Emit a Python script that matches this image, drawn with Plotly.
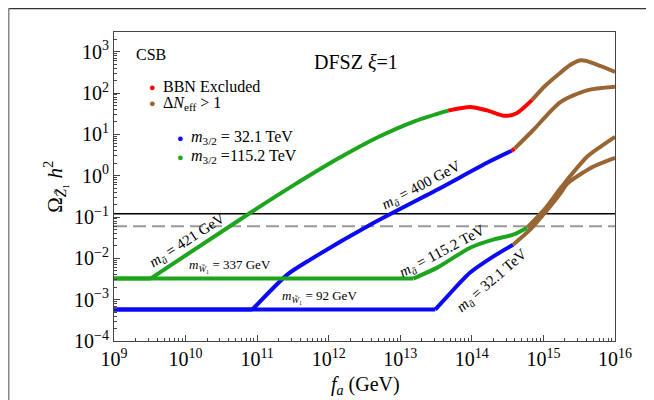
import plotly.graph_objects as go

# ---------------- data (f_a in GeV, Omega h^2) ----------------
# m_{3/2} = 32.1 TeV, m_a~ = 400 GeV (wino m = 92 GeV)
blue_hi_flat_fa = [1e9, 8.57e10]
blue_hi_flat_om = [5.77e-4, 5.77e-4]
blue_hi_rise_fa = [8.57e10, 2.64e11, 5.53e11, 3.8e12, 3.27e13, 1.63e14, 3.6e14]
blue_hi_rise_om = [5.77e-4, 4.04e-3, 9.3e-3, 0.065, 0.456, 2.05, 4.0]
blue_hi_red_fa = [3.6e14, 3.95e14]
blue_hi_red_om = [4.0, 4.5]
blue_hi_brown_fa = [3.95e14, 7.26e14, 1.71e15, 4.07e15, 1e16]
blue_hi_brown_om = [4.5, 12.9, 59.6, 116, 141]

# m_{3/2} = 32.1 TeV, m_a~ = 32.1 TeV
blue_lo_flat_fa = [1e9, 3.08e13]
blue_lo_flat_om = [5.77e-4, 5.77e-4]
blue_lo_rise_fa = [3.08e13, 4.52e13, 9.47e13, 1.98e14, 3.77e14]
blue_lo_rise_om = [5.77e-4, 1.19e-3, 4.52e-3, 0.011, 0.0214]
blue_lo_brown_fa = [3.77e14, 6.52e14, 1.05e15, 1.71e15, 2.14e15, 4.93e15, 1e16]
blue_lo_brown_om = [0.0214, 0.0493, 0.127, 0.363, 0.637, 1.64, 2.7]

# m_{3/2} = 115.2 TeV, m_a~ = 421 GeV (wino m = 337 GeV)
green_hi_flat_fa = [1e9, 3.24e9]
green_hi_flat_om = [3.24e-3, 3.24e-3]
green_hi_rise_fa = [3.24e9, 8.04e10, 3.16e11, 1.26e12, 5.01e12, 1.58e13, 4.67e13]
green_hi_rise_om = [3.24e-3, 0.127, 0.574, 2.42, 8.73, 20.7, 37.5]
green_hi_red_fa = [4.67e13, 9.47e13, 1.63e14, 2.92e14, 4.29e14, 6.95e14]
green_hi_red_om = [37.5, 46, 38, 28, 33, 68]
green_hi_brown_fa = [6.95e14, 1.05e15, 1.71e15, 2.36e15, 3.3e15, 4.07e15, 6.18e15, 1e16]
green_hi_brown_om = [68, 148, 306, 474, 620, 590, 451, 324]

# m_{3/2} = 115.2 TeV, m_a~ = 115.2 TeV
green_lo_flat_fa = [1e9, 1.52e13]
green_lo_flat_om = [3.24e-3, 3.24e-3]
green_lo_rise_fa = [1.52e13, 3.28e13, 9.47e13, 1.98e14, 3.77e14, 5.92e14]
green_lo_rise_om = [3.24e-3, 5.96e-3, 0.0181, 0.0283, 0.0373, 0.0552]
green_lo_brown_fa = [5.92e14, 1.05e15, 1.71e15, 2.14e15, 4.07e15, 6.18e15, 1e16]
green_lo_brown_om = [0.0552, 0.158, 0.482, 0.79, 2.86, 4.93, 8.7]

hline_fa = [1e9, 1e16]
omega_dm = 0.12
omega_half = 0.06

x_tickvals = [1e9, 1e10, 1e11, 1e12, 1e13, 1e14, 1e15, 1e16]
x_ticktext = ["10<sup>9</sup>", "10<sup>10</sup>", "10<sup>11</sup>", "10<sup>12</sup>",
              "10<sup>13</sup>", "10<sup>14</sup>", "10<sup>15</sup>", "10<sup>16</sup>"]
y_tickvals = [1e-4, 1e-3, 1e-2, 1e-1, 1e0, 1e1, 1e2, 1e3]
y_ticktext = ["10<sup>\u22124</sup>", "10<sup>\u22123</sup>", "10<sup>\u22122</sup>", "10<sup>\u22121</sup>",
              "10<sup>0</sup>", "10<sup>1</sup>", "10<sup>2</sup>", "10<sup>3</sup>"]

BLUE = "#0a0af5"
GREEN = "#1ea51e"
RED = "#ff0000"
BROWN = "#996633"
FONT = "Liberation Serif"
LW = 4

fig = go.Figure()

# reference lines
fig.add_trace(go.Scatter(x=hline_fa, y=[omega_dm] * 2, mode="lines",
                         line=dict(color="black", width=1.6), showlegend=False))
fig.add_trace(go.Scatter(x=hline_fa, y=[omega_half] * 2, mode="lines",
                         line=dict(color="#999999", width=2, dash="13px,6px"), showlegend=False))


def seg(x, y, color, shape="spline"):
    fig.add_trace(go.Scatter(x=x, y=y, mode="lines",
                             line=dict(color=color, width=LW, shape=shape, smoothing=0.7),
                             showlegend=False))


for fa, om, c, sh in [
    (blue_hi_flat_fa, blue_hi_flat_om, BLUE, "linear"),
    (blue_hi_rise_fa, blue_hi_rise_om, BLUE, "spline"),
    (blue_hi_red_fa, blue_hi_red_om, RED, "linear"),
    (blue_hi_brown_fa, blue_hi_brown_om, BROWN, "spline"),
    (blue_lo_flat_fa, blue_lo_flat_om, BLUE, "linear"),
    (blue_lo_rise_fa, blue_lo_rise_om, BLUE, "spline"),
    (blue_lo_brown_fa, blue_lo_brown_om, BROWN, "spline"),
    (green_hi_flat_fa, green_hi_flat_om, GREEN, "linear"),
    (green_hi_rise_fa, green_hi_rise_om, GREEN, "spline"),
    (green_hi_red_fa, green_hi_red_om, RED, "spline"),
    (green_hi_brown_fa, green_hi_brown_om, BROWN, "spline"),
    (green_lo_flat_fa, green_lo_flat_om, GREEN, "linear"),
    (green_lo_rise_fa, green_lo_rise_om, GREEN, "spline"),
    (green_lo_brown_fa, green_lo_brown_om, BROWN, "spline"),
]:
    seg(fa, om, c, sh)

# page geometry: the figure div sits at an 8px body margin inside the 654x400 window
OFF = 8
W, H = 654 - OFF, 400 - OFF
PL, PR, PT, PB = 114, 615, 32, 341.5          # desired plot box in window pixels
L, R, T, B = PL - OFF, W - (PR - OFF), PT - OFF, H - (PB - OFF)
PW, PH = W - L - R, H - T - B


def px(xp):
    return (xp - OFF - L) / PW


def py(yp):
    return (H - B - (yp - OFF)) / PH


ann = []


def text(x, y, s, size=16, angle=0, xanchor="center", color="black"):
    ann.append(dict(x=px(x), y=py(y), xref="paper", yref="paper", text=s, showarrow=False,
                    textangle=angle, xanchor=xanchor, yanchor="middle",
                    font=dict(family=FONT, size=size, color=color)))


text(151, 55, "CSB", 16)
text(356, 62, "DFSZ <i>\u03be</i>=1", 20)
text(152, 87, "\u25cf", 11, color=RED)
text(161, 87, "BBN Excluded", 16, xanchor="left")
text(152, 103, "\u25cf", 11, color=BROWN)
text(161, 104, "\u0394<i>N</i><sub>eff</sub> > 1", 16, xanchor="left")
text(180, 138, "\u25cf", 11, color=BLUE)
text(189, 138, "<i>m</i><sub>3/2</sub> = 32.1 TeV", 16, xanchor="left")
text(180, 157, "\u25cf", 11, color=GREEN)
text(189, 157, "<i>m</i><sub>3/2</sub> =115.2 TeV", 16, xanchor="left")

text(187, 241, "<i>m</i><sub><i>\u00e3</i></sub> = 421 GeV", 15, angle=-33)
text(230, 266, "<i>m</i><sub><i>W\u0303</i>\u2081</sub> = 337 GeV", 13)
text(319, 297, "<i>m</i><sub><i>W\u0303</i>\u2081</sub> = 92 GeV", 13)
text(421, 186, "<i>m</i><sub><i>\u00e3</i></sub> = 400 GeV", 15, angle=-28)
text(442, 252, "<i>m</i><sub><i>\u00e3</i></sub> = 115.2 TeV", 15, angle=-28)
text(492, 281, "<i>m</i><sub><i>\u00e3</i></sub> = 32.1 TeV", 15, angle=-41)

text(365, 386, "<i>f</i><sub><i>a</i></sub> (GeV)", 20)
text(55, 187, "\u03a9<sub><i>Z\u0303</i>\u2081</sub> <i>h</i><sup>2</sup>", 21, angle=-90)

shapes = [
    dict(type="line", xref="paper", yref="paper", x0=px(7), x1=px(700), y0=py(8.5), y1=py(8.5),
         line=dict(color="#333333", width=1.5)),
    dict(type="line", xref="paper", yref="paper", x0=px(8.5), x1=px(8.5), y0=py(8), y1=py(420),
         line=dict(color="#888888", width=2)),
]

axis_common = dict(type="log", automargin=False, showgrid=False, zeroline=False, showline=True,
                   mirror=True, linecolor="#444444", linewidth=1, ticks="inside", ticklen=6,
                   tickwidth=1, tickcolor="#444444",
                   tickfont=dict(family=FONT, size=20, color="black"),
                   minor=dict(ticks="inside", ticklen=3, tickwidth=1, tickcolor="#444444",
                              dtick="D1", showgrid=False))

fig.update_layout(
    template="none",
    width=W, height=H, margin=dict(l=L, r=R, t=T, b=B, autoexpand=False),
    paper_bgcolor="white", plot_bgcolor="white", showlegend=False,
    xaxis=dict(range=[9, 16], tickvals=x_tickvals, ticktext=x_ticktext, **axis_common),
    yaxis=dict(range=[-4, 3.476], tickvals=y_tickvals, ticktext=y_ticktext, **axis_common),
    annotations=ann, shapes=shapes,
)

fig.write_html("out.html")
